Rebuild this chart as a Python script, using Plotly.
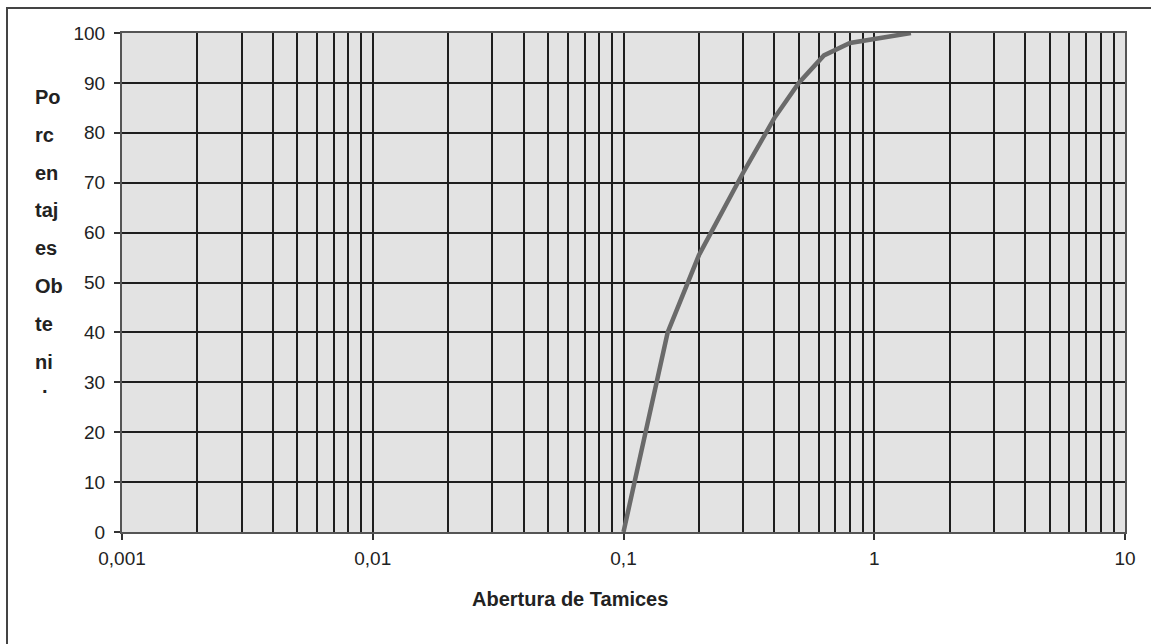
import plotly.graph_objects as go

# Curva granulométrica: abertura (mm) vs porcentaje que pasa
abertura = [0.1, 0.15, 0.2, 0.3, 0.4, 0.5, 0.63, 0.8, 1.4]
porcentaje = [0, 40, 55.5, 72, 83, 90, 95.5, 98, 100]

x_tick_vals = [0.001, 0.01, 0.1, 1, 10]
x_tick_text = ["0,001", "0,01", "0,1", "1", "10"]
y_tick_vals = [0, 10, 20, 30, 40, 50, 60, 70, 80, 90, 100]

# Título del eje Y partido en fragmentos, tal como aparece en la hoja original
y_title_parts = ["Po", "rc", "en", "taj", "es", "Ob", "te", "ni", "·"]
x_title = "Abertura de Tamices"

W, H = 1151, 644
L, R, T, B = 122, 1125, 33, 532
pw, ph = R - L, B - T

def px_x(p):
    return (p - L) / pw

def px_y(p):
    return (B - p) / ph

minor_vals = [m * 10 ** e for e in range(-3, 1) for m in range(2, 10)]

fig = go.Figure()
fig.add_trace(go.Scatter(
    x=abertura, y=porcentaje, mode="lines",
    line=dict(color="#6a6a6a", width=4.5),
    showlegend=False, hoverinfo="x+y",
))

font_family = "Liberation Sans, Arial, sans-serif"
grid_color = "#1e1e1e"

fig.update_layout(
    width=W, height=H,
    margin=dict(l=L, r=W - R, t=T, b=H - B, pad=0),
    paper_bgcolor="white",
    plot_bgcolor="#e3e3e3",
    font=dict(family=font_family, size=19, color="#222222"),
    xaxis=dict(
        type="log", range=[-3, 1],
        tickmode="array", tickvals=x_tick_vals, ticktext=x_tick_text,
        ticks="outside", ticklen=6, tickwidth=1.5, tickcolor="#333333",
        ticklabelstandoff=2,
        showgrid=True, gridcolor=grid_color, gridwidth=1.5,
        minor=dict(tickmode="array", tickvals=minor_vals, showgrid=True,
                   gridcolor=grid_color, gridwidth=1.5, ticks=""),
        showline=True, linecolor="#555555", linewidth=2, mirror=True,
        zeroline=False,
    ),
    yaxis=dict(
        range=[0, 100],
        tickmode="array", tickvals=y_tick_vals,
        ticks="outside", ticklen=6, tickwidth=1.5, tickcolor="#333333",
        ticklabelstandoff=5,
        showgrid=True, gridcolor=grid_color, gridwidth=1.5,
        showline=True, linecolor="#555555", linewidth=2, mirror=True,
        zeroline=False,
    ),
)

annotations = []
line_y0, line_step = 97, 37.8
for i, part in enumerate(y_title_parts):
    annotations.append(dict(
        text=f"<b>{part}</b>", xref="paper", yref="paper",
        x=px_x(33 if part != "·" else 40), y=px_y(line_y0 + i * line_step - (8 if part == "·" else 0)),
        xanchor="left", yanchor="middle", showarrow=False,
        font=dict(family=font_family, size=20, color="#222222"),
    ))
annotations.append(dict(
    text=f"<b>{x_title}</b>", xref="paper", yref="paper",
    x=px_x(570), y=px_y(599), xanchor="center", yanchor="middle",
    showarrow=False, font=dict(family=font_family, size=20, color="#222222"),
))
fig.update_layout(annotations=annotations)

# Marco exterior de la hoja
fig.add_shape(
    type="rect", xref="paper", yref="paper",
    x0=px_x(7), y0=px_y(H + 40), x1=px_x(W + 40), y1=px_y(8),
    line=dict(color="#444444", width=2), fillcolor="rgba(0,0,0,0)",
    layer="below",
)

fig.write_html("out.html")
